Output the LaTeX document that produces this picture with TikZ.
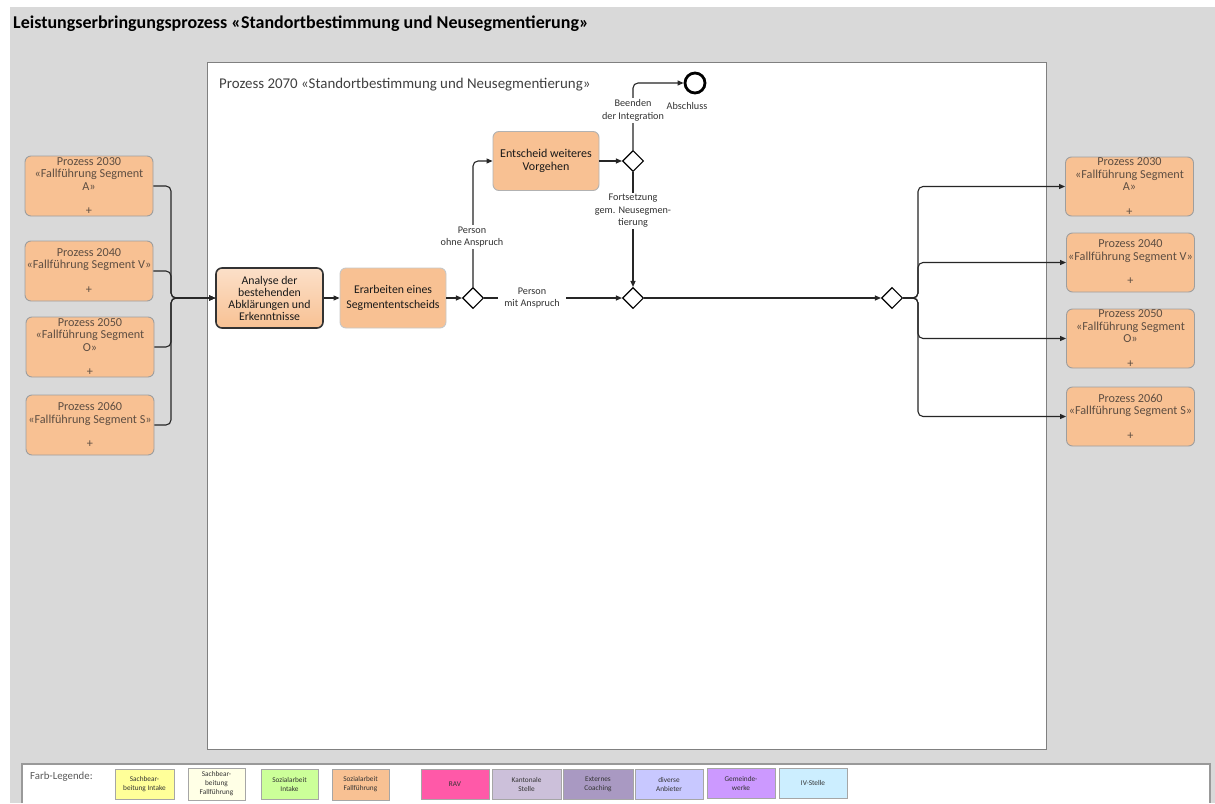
\documentclass[tikz,border=0pt]{standalone}
\usepackage{fontspec}
\setmainfont{Carlito}
\usetikzlibrary{shapes.geometric,arrows.meta}
\definecolor{bg}{HTML}{D9D9D9}
\definecolor{orfill}{HTML}{F8C193}
\definecolor{boxtext}{HTML}{5E4E42}
\definecolor{c1}{HTML}{FFFF99}
\definecolor{c2}{HTML}{FFFFE6}
\definecolor{c3}{HTML}{CCFF99}
\definecolor{c4}{HTML}{F8C193}
\definecolor{c5}{HTML}{FF59A8}
\definecolor{c6}{HTML}{CCC0DA}
\definecolor{c7}{HTML}{A999C2}
\definecolor{c8}{HTML}{C8C8FF}
\definecolor{c9}{HTML}{CC99FF}
\definecolor{c10}{HTML}{CCEEFF}
\begin{document}
\begin{tikzpicture}[x=1pt,y=-1pt,
 conn/.style={line width=1.1pt, draw=black!85, rounded corners=5pt},
 arr/.style={conn, -{Triangle[length=6pt,width=5pt]}},
 proc/.style={draw=black!38, fill=orfill, rounded corners=6pt, line width=0.9pt, align=center, text=boxtext, font=\fontsize{12.2}{12.5}\selectfont, inner sep=0pt},
 side/.style={proc, minimum width=128pt, minimum height=60pt},
 gw/.style={diamond, draw=black, fill=white, line width=1.1pt, minimum width=21pt, minimum height=21pt, inner sep=0pt},
 lbl/.style={fill=white, align=center, font=\fontsize{10.2}{12.5}\selectfont, text=black!80, inner sep=1.5pt},
 leg/.style={draw=black!35, line width=0.8pt, align=center, font=\fontsize{7.3}{9}\selectfont, text=black!80, inner sep=0pt, minimum height=30pt},
]
\useasboundingbox (0,0) rectangle (1215,803);
\fill[white] (0,0) rectangle (1215,803);
\fill[bg] (10,7) rectangle (1215,803);
% legend panel
\fill[white] (22,764) rectangle (1210,803);
\draw[black!40, line width=1.2pt] (22,803) -- (22,764) -- (1210,764) -- (1210,803);
% title
\node[anchor=base west, font=\bfseries\fontsize{18}{21}\selectfont, text=black, inner sep=0pt] (title) at (13,28) {Leistungserbringungsprozess «Standortbestimmung und Neusegmentierung»};
% main frame
\draw[fill=white, draw=black!50, line width=1pt] (207,62) rectangle (1046,749);
\node[anchor=base west, font=\fontsize{14.9}{17}\selectfont, text=black!75, inner sep=0pt] (sub) at (219,88) {Prozess 2070 «Standortbestimmung und Neusegmentierung»};
% left boxes
\node[side] (l1) at (89,186) {Prozess 2030\\«Fallführung Segment\\A»\\[12pt]+};
\node[side] (l2) at (89,271) {Prozess 2040\\«Fallführung Segment V»\\[12pt]+};
\node[side] (l3) at (90,347) {Prozess 2050\\«Fallführung Segment\\O»\\[12pt]+};
\node[side] (l4) at (90,425) {Prozess 2060\\«Fallführung Segment S»\\[12pt]+};
% right boxes
\node[side, minimum height=59pt] (r1) at (1129.5,186.5) {Prozess 2030\\«Fallführung Segment\\A»\\[12pt]+};
\node[side, minimum height=59pt] (r2) at (1130.5,262.5) {Prozess 2040\\«Fallführung Segment V»\\[12pt]+};
\node[side, minimum height=59pt] (r3) at (1130.5,338.5) {Prozess 2050\\«Fallführung Segment\\O»\\[12pt]+};
\node[side, minimum height=59pt] (r4) at (1130.5,416.5) {Prozess 2060\\«Fallführung Segment S»\\[12pt]+};
% central tasks
\node[proc, draw=black!80, line width=1.6pt, top color=orfill!50!white, bottom color=orfill, minimum width=107pt, minimum height=60pt, text=black!90, font=\fontsize{11.8}{12}\selectfont] (an) at (269.5,298) {Analyse der\\bestehenden\\Abklärungen und\\Erkenntnisse};
\node[proc, draw=black!22, minimum width=106pt, minimum height=60pt, text=black!90, font=\fontsize{11.8}{14.5}\selectfont] (er) at (393,298) {Erarbeiten eines\\Segmententscheids};
\node[proc, draw=black!30, minimum width=106pt, minimum height=59pt, text=black!90, font=\fontsize{12}{12.5}\selectfont] (en) at (546,161) {Entscheid weiteres\\Vorgehen};
% gateways
\node[gw] (g1) at (473,298) {};
\node[gw] (g2) at (633,161) {};
\node[gw] (g3) at (633,298) {};
\node[gw] (g4) at (892,298) {};
% end event
\node[circle, draw=black, line width=2.8pt, minimum size=20pt, inner sep=0pt, fill=white] (ee) at (695,83) {};
\node[font=\fontsize{10.2}{12}\selectfont, text=black!80, inner sep=0pt] (eel) at (687,106) {Abschluss};
% connectors left
\coordinate (jl) at (171,298);
\foreach \n in {l1,l2,l3,l4} \draw[arr] (\n.east) -| (jl) -- (an.west);
\draw[arr] (an.east) -- (er.west);
\draw[arr] (er.east) -- (g1.west);
\draw[arr] (g1.north) |- (en.west);
\node[lbl] (lb1) at (472,237) {Person\\ohne Anspruch};
\draw[arr] (g1.east) -- (g3.west);
\node[lbl, inner xsep=6pt] (lb2) at (532,298) {Person\\mit Anspruch};
\draw[arr] (en.east) -- (g2.west);
\draw[arr] (g2.north) |- (ee.west);
\node[lbl] (lb3) at (633,110.5) {Beenden\\der Integration};
\draw[arr] (g2.south) -- (g3.north);
\node[lbl] (lb4) at (633,211) {Fortsetzung\\gem. Neusegmen-\\tierung};
\draw[arr] (g3.east) -- (g4.west);
% connectors right
\coordinate (jr) at (918,298);
\foreach \n in {r1,r2,r3,r4} \draw[arr] (g4.east) -- (jr) |- (\n.west);
% legend
\node[anchor=west, font=\fontsize{10.8}{12}\selectfont, text=black!65, inner sep=0pt] (legt) at (30,777) {Farb-Legende:};
\node[leg, fill=c1, minimum width=59pt] (lg1) at (144.5,784) {Sachbear-\\beitung Intake};
\node[leg, fill=c2, minimum width=57pt, minimum height=32pt] (lg2) at (216.5,784) {Sachbear-\\beitung\\Fallführung};
\node[leg, fill=c3, minimum width=57pt] (lg3) at (289.5,784) {Sozialarbeit\\Intake};
\node[leg, fill=c4, minimum width=57pt, minimum height=31pt] (lg4) at (360.5,784.5) {Sozialarbeit\\Fallführung};
\node[leg, fill=c5, minimum width=68pt] (lg5) at (455,784) {RAV};
\node[leg, fill=c6, minimum width=69pt] (lg6) at (526.5,784) {Kantonale\\Stelle};
\node[leg, fill=c7, minimum width=70pt] (lg7) at (598,784) {Externes\\Coaching};
\node[leg, fill=c8, minimum width=68pt] (lg8) at (669,784) {diverse\\Anbieter};
\node[leg, fill=c9, minimum width=68pt] (lg9) at (741,783) {Gemeinde-\\werke};
\node[leg, fill=c10, minimum width=68pt] (lg10) at (813,783) {IV-Stelle};
\end{tikzpicture}
\end{document}
